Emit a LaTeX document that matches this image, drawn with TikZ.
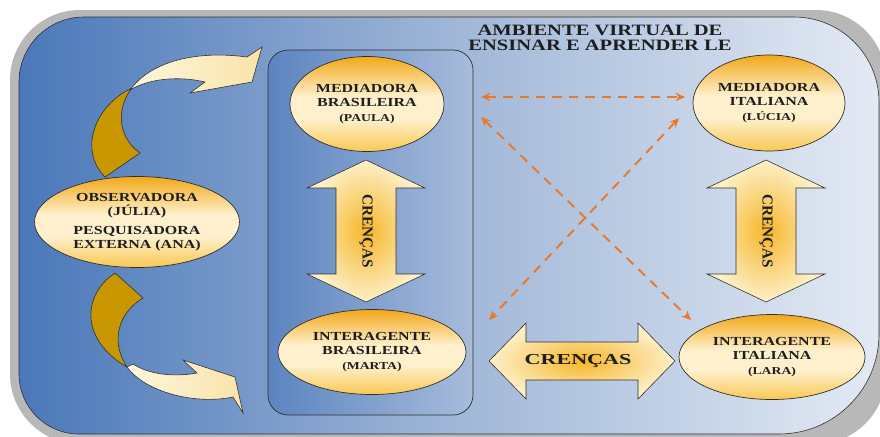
\documentclass[tikz,border=0pt]{standalone}
\usepackage{fontspec}
\setmainfont{Liberation Serif}
\newfontfamily\widefont[FakeStretch=1.3]{Liberation Serif}
\newfontfamily\crfont[FakeStretch=1.45]{Liberation Serif}
\usepackage{tikz}
\usetikzlibrary{shapes.geometric,arrows.meta}
\pgfdeclarelayer{bg}
\pgfsetlayers{bg,main}
\definecolor{bgleft}{HTML}{4A78B9}
\definecolor{bgmid}{HTML}{9FB6D7}
\definecolor{bgright}{HTML}{E3EAF4}
\definecolor{boxleft}{HTML}{5B84C0}
\definecolor{boxright}{HTML}{A8BCDB}
\definecolor{shadowgray}{HTML}{B8B8B8}
\definecolor{outline}{HTML}{2F2F2F}
\definecolor{txt}{HTML}{1E1E1E}
\definecolor{elltop}{HTML}{F2A818}
\definecolor{ellmid}{HTML}{FEF0CC}
\definecolor{ellbot}{HTML}{F8C852}
\definecolor{arrcream}{HTML}{FDF0C8}
\definecolor{arrgold}{HTML}{F6B62A}
\definecolor{dashorange}{HTML}{E8782A}
\definecolor{darkgold}{HTML}{C89600}
\definecolor{creamlight}{HTML}{FEF6DE}
\definecolor{creamdark}{HTML}{F9E3A8}
\pgfdeclareverticalshading{ellshade}{100bp}{color(0bp)=(ellbot); color(25bp)=(ellbot);
  color(42bp)=(ellmid); color(54bp)=(ellmid); color(75bp)=(elltop); color(100bp)=(elltop)}
\newcommand\sm[1]{{\fontsize{9}{12}\selectfont #1}}

\begin{document}
\begin{tikzpicture}[x=0.03cm,y=-0.03cm,
    persona/.style={ellipse,draw=outline,line width=0.6pt,shading=ellshade,
      inner sep=0pt,align=center,
      text=txt,font=\widefont\bfseries\fontsize{10.5}{12}\selectfont},
    blockfill/.style={draw=outline,line width=0.5pt,inner color=arrgold,outer color=arrcream},
    vlabel/.style={rotate=-90,text=txt,font=\bfseries\fontsize{13}{13}\selectfont},
    hlabel/.style={text=txt,font=\crfont\bfseries\fontsize{13}{13}\selectfont},
    dasharrow/.style={draw=dashorange,line width=1.6pt,dash pattern=on 8pt off 6pt,
      {Stealth[length=8pt,width=7pt]}-{Stealth[length=8pt,width=7pt]}},
    darkpart/.style={fill=darkgold,draw=outline,line width=0.5pt},
    creampart/.style={left color=creamlight,right color=creamdark,draw=outline,line width=0.5pt}]
    \useasboundingbox (0,0) rectangle (880,436) ;
    \begin{pgfonlayer}{bg}
      \fill[shadowgray,rounded corners=2.1cm] (10,10) rectangle (886,444) ;
      \path[draw=outline,line width=0.5pt,left color=bgleft,right color=bgright,middle color=bgmid]
        (19,230) [rounded corners=1.95cm] -- (19,17) [rounded corners=2.55cm] -- (879,17)
        [rounded corners=3cm] -- (879,434) [rounded corners=1.8cm] -- (19,434) -- cycle ;
      \draw[outline,line width=0.6pt,left color=boxleft,right color=boxright,rounded corners=0.6cm]
        (268,50) rectangle (473,415) ;
    \end{pgfonlayer}
    \node[font=\widefont\bfseries\fontsize{13.5}{12.8}\selectfont,text=txt,align=center]
      (title) at (600,38) {AMBIENTE VIRTUAL DE\\ENSINAR E APRENDER LE} ;
    \node[persona,minimum width=4.62cm,minimum height=2.85cm] (medbr) at (367,104)
      {MEDIADORA\\BRASILEIRA\\\sm{(PAULA)}} ;
    \node[persona,minimum width=4.56cm,minimum height=2.88cm] (medit) at (769,103)
      {MEDIADORA\\ITALIANA\\\sm{(LÚCIA)}} ;
    \node[persona,minimum width=5.64cm,minimum height=2.55cm] (intbr) at (372,352)
      {INTERAGENTE\\BRASILEIRA\\\sm{(MARTA)}} ;
    \node[persona,minimum width=5.58cm,minimum height=2.55cm] (intit) at (772,357)
      {INTERAGENTE\\ITALIANA\\\sm{(LARA)}} ;
    \node[persona,minimum width=6.15cm,minimum height=2.73cm] (obs) at (137,222)
      {OBSERVADORA\\(JÚLIA)\\[4pt]PESQUISADORA\\EXTERNA (ANA)} ;
    \coordinate (crbr) at (366,231) ;
    \coordinate (crit) at (766,231) ;
    \coordinate (crmid) at (582,361) ;
    \foreach \c in {crbr,crit}
      \draw[blockfill,shift={(\c)}] (0,-71) -- (59,-43) -- (30,-43) -- (30,43) -- (59,43)
        -- (0,71) -- (-59,43) -- (-30,43) -- (-30,-43) -- (-59,-43) -- cycle ;
    \draw[blockfill,shift={(crmid)}] (-93,0) -- (-56,-38) -- (-56,-19) -- (56,-19) -- (56,-38)
      -- (93,0) -- (56,38) -- (56,19) -- (-56,19) -- (-56,38) -- cycle ;
    \node[vlabel] (crbrtext) at (crbr) {CRENÇAS} ;
    \node[vlabel] (crittext) at (crit) {CRENÇAS} ;
    \node[hlabel] (crmidtext) at ([xshift=-0.12cm]crmid) {CRENÇAS} ;
    \coordinate (a1) at (481,97) ;
    \coordinate (a2) at (685,97) ;
    \coordinate (b1) at (481,117) ;
    \coordinate (b2) at (691,320) ;
    \coordinate (c1) at (679,118) ;
    \coordinate (c2) at (489,320) ;
    \draw[dasharrow] (a1) -- (a2) ;
    \draw[dasharrow] (b1) -- (b2) ;
    \draw[dasharrow] (c1) -- (c2) ;
    \draw[darkpart] (105,177) .. controls (78,150) and (95,105) .. (132,88)
      .. controls (118,105) and (115,135) .. (140,153) -- cycle ;
    \draw[creampart] (130,90) .. controls (150,62) and (195,50) .. (247,57) -- (262,47)
      -- (252,82) -- (190,93) -- (205,82) .. controls (180,76) and (150,78) .. (130,90) -- cycle ;
    \draw[darkpart] (115,273) .. controls (82,295) and (80,340) .. (127,367)
      .. controls (112,345) and (115,315) .. (143,298) -- cycle ;
    \draw[creampart] (127,367) .. controls (145,392) and (195,405) .. (233,397) -- (243,413)
      -- (235,377) -- (183,360) -- (197,373) .. controls (175,377) and (150,375) .. (133,364) -- cycle ;
  \end{tikzpicture}
\end{document}
